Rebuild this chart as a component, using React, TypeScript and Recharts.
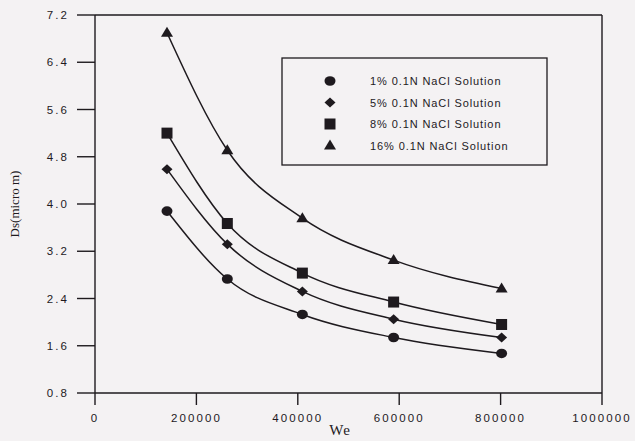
import React from 'react';
import { LineChart, Line, XAxis, YAxis, ReferenceLine, Customized } from 'recharts';

const weValues = [142000, 261000, 409000, 589000, 802000];
const nacl1 = [3.88, 2.73, 2.13, 1.74, 1.47];
const nacl5 = [4.59, 3.32, 2.52, 2.05, 1.74];
const nacl8 = [5.2, 3.67, 2.83, 2.34, 1.96];
const nacl16 = [6.9, 4.91, 3.76, 3.05, 2.57];
const seriesNames = ['1% 0.1N NaCl Solution', '5% 0.1N NaCl Solution', '8% 0.1N NaCl Solution', '16% 0.1N NaCl Solution'];
const xTicks = [0, 200000, 400000, 600000, 800000, 1000000];
const yTicks = [0.8, 1.6, 2.4, 3.2, 4.0, 4.8, 5.6, 6.4, 7.2];

const data = weValues.map((we, i) => ({ we, s1: nacl1[i], s5: nacl5[i], s8: nacl8[i], s16: nacl16[i] }));

const INK = '#1e1a1e';
const BG = '#f4f2f3';

type Shape = 'circle' | 'diamond' | 'square' | 'triangle';

const Marker = ({ cx, cy, shape }: { cx: number; cy: number; shape: Shape }) => {
  if (cx == null || cy == null) return null;
  if (shape === 'circle') return <ellipse cx={cx} cy={cy} rx={5.5} ry={4.8} fill={INK} />;
  if (shape === 'diamond') return <polygon points={`${cx},${cy - 5} ${cx + 5.5},${cy} ${cx},${cy + 5} ${cx - 5.5},${cy}`} fill={INK} />;
  if (shape === 'square') return <rect x={cx - 5.5} y={cy - 5.5} width={11} height={11} fill={INK} />;
  return <polygon points={`${cx},${cy - 6} ${cx + 6},${cy + 4} ${cx - 6},${cy + 4}`} fill={INK} />;
};

const series: { key: string; shape: Shape }[] = [
  { key: 's1', shape: 'circle' },
  { key: 's5', shape: 'diamond' },
  { key: 's8', shape: 'square' },
  { key: 's16', shape: 'triangle' },
];

const LegendBox = () => (
  <g>
    <rect x={282} y={58} width={265} height={107} fill="none" stroke={INK} strokeWidth={1.3} />
    {series.map((s, i) => (
      <g key={s.key}>
        <Marker cx={330} cy={81 + i * 21.5} shape={s.shape} />
        <text x={370} y={85 + i * 21.5} fontFamily="Liberation Sans, Arial, sans-serif" fontSize={11} letterSpacing={0.9} fill={INK}>
          {seriesNames[i]}
        </text>
      </g>
    ))}
  </g>
);

const tickStyle = { fontFamily: 'Liberation Sans, Arial, sans-serif', fontSize: 11.5, fill: INK, letterSpacing: 2.1 };

export default function App() {
  return (
    <div style={{ position: 'absolute', left: 0, top: 0, width: 635, height: 441, background: BG }}>
      <LineChart width={635} height={441} data={data} margin={{ top: 15, right: 33, bottom: 8, left: 35 }}>
        <XAxis
          type="number"
          dataKey="we"
          domain={[0, 1000000]}
          ticks={xTicks}
          interval={0}
          height={40}
          tickSize={12}
          tickMargin={9}
          stroke={INK}
          strokeWidth={1.4}
          tick={tickStyle}
        />
        <YAxis
          type="number"
          domain={[0.8, 7.2]}
          ticks={yTicks}
          interval={0}
          width={60}
          tickSize={18}
          tickMargin={8}
          stroke={INK}
          strokeWidth={1.4}
          tick={tickStyle}
          tickFormatter={(v: number) => v.toFixed(1)}
        />
        <ReferenceLine y={7.2} stroke={INK} strokeWidth={1.4} />
        <ReferenceLine x={1000000} stroke={INK} strokeWidth={1.4} />
        {series.map((s) => (
          <Line
            key={s.key}
            dataKey={s.key}
            type="monotone"
            stroke={INK}
            strokeWidth={1.5}
            isAnimationActive={false}
            dot={(p: any) => <Marker key={`${s.key}-${p.index}`} cx={p.cx} cy={p.cy} shape={s.shape} />}
            activeDot={false}
          />
        ))}
        <Customized component={LegendBox} />
        <text x={340} y={435} textAnchor="middle" fontFamily="Liberation Serif, Times New Roman, serif" fontSize={15} letterSpacing={1} fill={INK}>We</text>
        <text x={19} y={204} textAnchor="middle" transform="rotate(-90 19 204)" fontFamily="Liberation Serif, Times New Roman, serif" fontSize={13} fill={INK}>Ds(micro m)</text>
      </LineChart>
    </div>
  );
}
